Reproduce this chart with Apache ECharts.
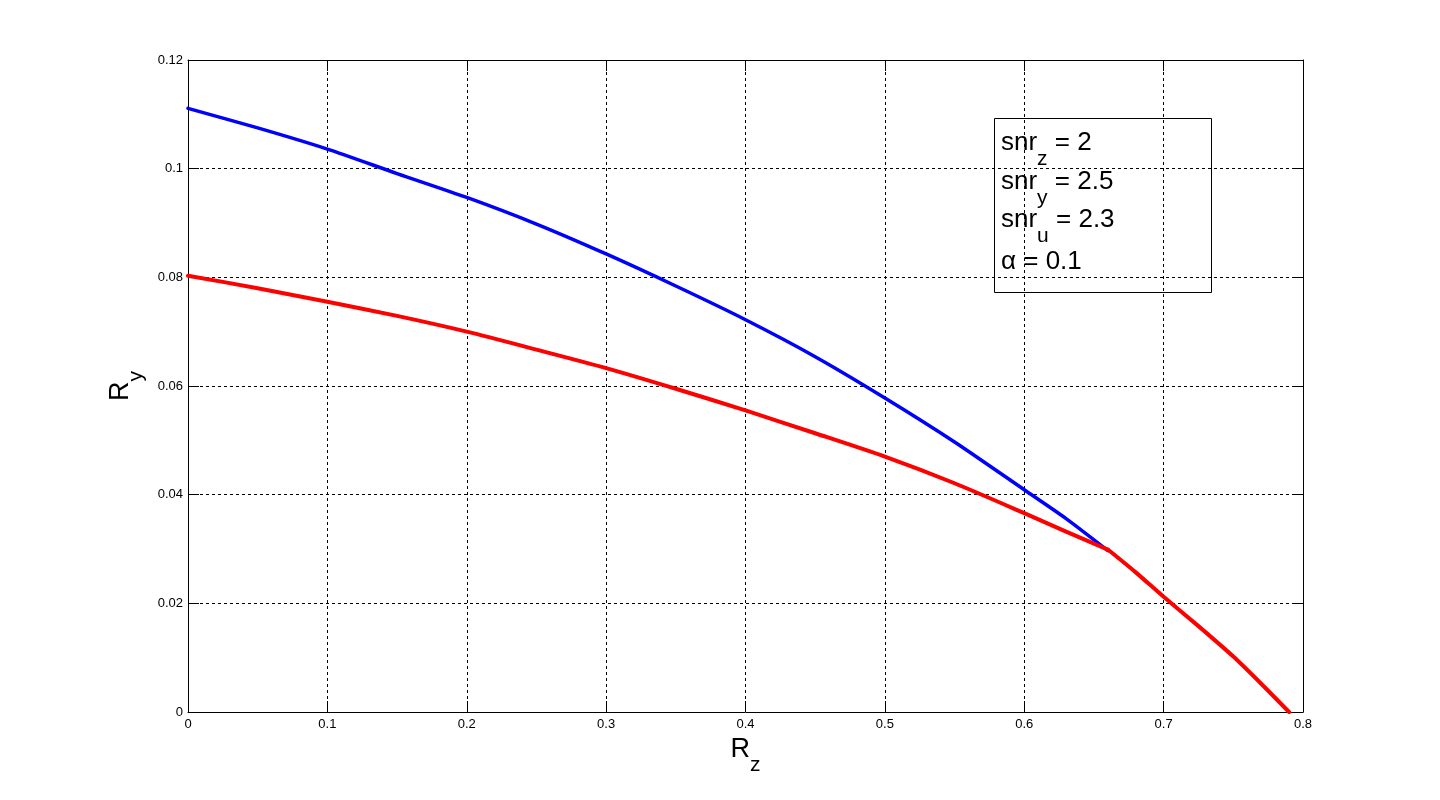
<!DOCTYPE html>
<html><head><meta charset="utf-8">
<script src="https://cdn.jsdelivr.net/npm/echarts@6/dist/echarts.min.js"></script>
<style>html,body{margin:0;padding:0;background:#fff}#c{width:1440px;height:800px}</style>
</head><body><div id="c"></div>
<script>
const rzBlue = [0, 0.05, 0.1, 0.15, 0.2, 0.25, 0.3, 0.35, 0.4, 0.45, 0.5, 0.55, 0.6, 0.63, 0.66];
const ryBlue = [0.1111, 0.1075, 0.1036, 0.0991, 0.0947, 0.0898, 0.0843, 0.0784, 0.0722, 0.0654, 0.0578, 0.0497, 0.0409, 0.0356, 0.0297];
const rzRed = [0, 0.05, 0.1, 0.15, 0.2, 0.25, 0.3, 0.35, 0.4, 0.45, 0.5, 0.55, 0.6, 0.63, 0.66, 0.68, 0.7, 0.725, 0.75, 0.77, 0.79];
const ryRed = [0.0803, 0.0780, 0.0755, 0.0729, 0.0700, 0.0667, 0.0633, 0.0595, 0.0555, 0.0513, 0.0470, 0.0421, 0.0366, 0.0332, 0.0299, 0.0257, 0.0212, 0.0158, 0.0102, 0.0052, 0.0];
const kinkRz = 0.66;
const xTicks = [0, 0.1, 0.2, 0.3, 0.4, 0.5, 0.6, 0.7, 0.8];
const yTicks = [0, 0.02, 0.04, 0.06, 0.08, 0.1, 0.12];
const annot = [['snr', 'z', ' = 2'], ['snr', 'y', ' = 2.5'], ['snr', 'u', ' = 2.3'], ['α', '', ' = 0.1']];

const FONT = '"Liberation Sans", Arial, sans-serif';
const chart = echarts.init(document.getElementById('c'), null, {renderer: 'canvas'});

function pairs(xs, ys) { return xs.map((x, i) => [x, ys[i]]); }
const redAll = pairs(rzRed, ryRed);
const kIdx = rzRed.indexOf(kinkRz);
const redA = redAll.slice(0, kIdx + 1);
const redB = redAll.slice(kIdx);

const tickStyle = {show: true, inside: true, length: 11, lineStyle: {color: '#000', width: 1}};
const lineStyleAxis = {show: true, onZero: false, lineStyle: {color: '#000', width: 1}};
const grid = {left: 188, top: 60, right: 137, bottom: 88, containLabel: false};
const xMin = xTicks[0], xMax = xTicks[xTicks.length - 1], xInt = xTicks[1] - xTicks[0];
const yMin = yTicks[0], yMax = yTicks[yTicks.length - 1], yInt = yTicks[1] - yTicks[0];

const nameRich = {
  m: {fontFamily: FONT, fontSize: 27, color: '#000', lineHeight: 30, verticalAlign: 'top'},
  s: {fontFamily: FONT, fontSize: 21, color: '#000', lineHeight: 22, verticalAlign: 'top', padding: [19, 0, 0, 0]}
};
const boxRich = {
  m: {fontFamily: FONT, fontSize: 26, color: '#000', lineHeight: 28, verticalAlign: 'top'},
  s: {fontFamily: FONT, fontSize: 21, color: '#000', lineHeight: 22, verticalAlign: 'top', padding: [19, 0, 0, 0]}
};
const boxTops = [130, 169, 207, 249];

function lineSeries(data, color, width, z) {
  return {
    type: 'line', data: data, smooth: 0.25, showSymbol: false, symbol: 'none',
    lineStyle: {color: color, width: width, join: 'round', cap: 'round'}, z: z
  };
}

const option = {
  backgroundColor: '#fff',
  animation: false,
  grid: grid,
  xAxis: [{
    type: 'value', min: xMin, max: xMax, interval: xInt, position: 'bottom',
    axisLine: lineStyleAxis, axisTick: tickStyle,
    axisLabel: {color: '#000', fontFamily: FONT, fontSize: 13, margin: 6},
    splitLine: {show: true, lineStyle: {color: '#000', width: 1, type: [3, 3]}},
    name: '{m|R}{s|z}', nameLocation: 'middle', nameGap: 19,
    nameTextStyle: {rich: nameRich}
  }, {
    type: 'value', min: xMin, max: xMax, interval: xInt, position: 'top',
    axisLine: lineStyleAxis, axisTick: tickStyle, axisLabel: {show: false}, splitLine: {show: false}
  }],
  yAxis: [{
    type: 'value', min: yMin, max: yMax, interval: yInt, position: 'left',
    axisLine: lineStyleAxis, axisTick: tickStyle,
    axisLabel: {color: '#000', fontFamily: FONT, fontSize: 13, margin: 5},
    splitLine: {show: true, lineStyle: {color: '#000', width: 1, type: [3, 3]}},
    name: '{m|R}{s|y}', nameLocation: 'middle', nameGap: 33,
    nameTextStyle: {rich: nameRich}
  }, {
    type: 'value', min: yMin, max: yMax, interval: yInt, position: 'right',
    axisLine: lineStyleAxis, axisTick: tickStyle, axisLabel: {show: false}, splitLine: {show: false}
  }],
  series: [
    lineSeries(pairs(rzBlue, ryBlue), '#0000ff', 3.5, 3),
    lineSeries(redA, '#ff0000', 4, 4),
    lineSeries(redB, '#ff0000', 4, 4)
  ],
  graphic: [{
    type: 'rect', z: 10,
    shape: {x: 994.5, y: 118.5, width: 217, height: 174},
    style: {fill: 'none', stroke: '#000', lineWidth: 1}
  }].concat(annot.map((a, i) => ({
    type: 'text', x: 1001, y: boxTops[i], z: 10,
    style: {
      text: '{m|' + a[0] + '}' + (a[1] ? '{s|' + a[1] + '}' : '') + '{m|' + a[2] + '}',
      rich: boxRich
    }
  })))
};
chart.setOption(option);
</script>
</body></html>
